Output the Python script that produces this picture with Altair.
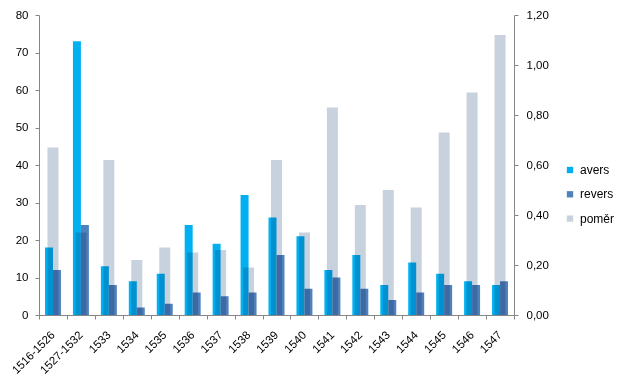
import altair as alt
import pandas as pd

categories = ["1516-1526", "1527-1532", "1533", "1534", "1535", "1536", "1537", "1538",
              "1539", "1540", "1541", "1542", "1543", "1544", "1545", "1546", "1547"]
avers = [18, 73, 13, 9, 11, 24, 19, 32, 26, 21, 12, 16, 8, 14, 11, 9, 8]
revers = [12, 24, 8, 2, 3, 6, 5, 6, 16, 7, 10, 7, 4, 6, 8, 8, 9]
pomer = [0.67, 0.33, 0.62, 0.22, 0.27, 0.25, 0.26, 0.19, 0.62, 0.33, 0.83, 0.44, 0.50, 0.43, 0.73, 0.89, 1.12]

series_names = ["avers", "revers", "poměr"]
series_colors = ["#00B0F0", "#4F81BD", "#C8D2DE"]

df = pd.DataFrame({"kat": categories, "avers": avers, "revers": revers, "pomer": pomer})

FONT = "Liberation Sans"
AXC = "#868686"

color = alt.Color("serie:N",
                  scale=alt.Scale(domain=series_names, range=series_colors),
                  legend=alt.Legend(title=None, orient="none", legendX=525, legendY=149,
                                    symbolType="square", symbolSize=40, symbolStrokeWidth=0,
                                    labelFontSize=12, labelFont=FONT, labelColor="black",
                                    rowPadding=12.3, padding=0, labelOffset=4))

xenc = alt.X("kat:N", sort=categories, title=None,
             scale=alt.Scale(paddingInner=0, paddingOuter=0),
             axis=alt.Axis(labelAngle=-45, labelAlign="right", labelBaseline="middle",
                           labelFontSize=11.5, labelFont=FONT, labelColor="black",
                           tickBand="extent", tickSize=4, tickColor=AXC, domainColor=AXC,
                           labelPadding=14, grid=False))

blue = alt.Chart(df).transform_fold(["avers", "revers"], as_=["serie", "hodnota"]).mark_bar().encode(
    x=xenc,
    xOffset=alt.XOffset("serie:N", scale=alt.Scale(domain=["avers", "revers"], paddingInner=0, paddingOuter=0.75)),
    y=alt.Y("hodnota:Q", title=None,
            scale=alt.Scale(domain=[0, 80], nice=False),
            axis=alt.Axis(values=[0, 10, 20, 30, 40, 50, 60, 70, 80], grid=False,
                          tickSize=4, tickColor=AXC, domainColor=AXC, labelPadding=7,
                          labelFontSize=11.5, labelFont=FONT, labelColor="black")),
    color=color,
)

grey = alt.Chart(df).transform_calculate(serie="'poměr'").mark_bar(size=11, blend="multiply").encode(
    x=xenc,
    y=alt.Y("pomer:Q", title=None,
            scale=alt.Scale(domain=[0, 1.2], nice=False),
            axis=alt.Axis(orient="right", values=[0, 0.2, 0.4, 0.6, 0.8, 1.0, 1.2], grid=False,
                          labelExpr="replace(format(datum.value, '.2f'), '.', ',')",
                          tickSize=4, tickColor=AXC, domainColor=AXC, labelPadding=8,
                          labelFontSize=11.5, labelFont=FONT, labelColor="black")),
    color=color,
)

chart = alt.layer(blue, grey).resolve_scale(y="independent").properties(
    width=475, height=300,
    autosize=alt.AutoSizeParams(type="none"),
    padding={"left": 31, "top": 7, "right": 100, "bottom": 63},
).configure_view(stroke=None)

chart.save("out.html", embed_options={"renderer": "svg", "actions": False})
